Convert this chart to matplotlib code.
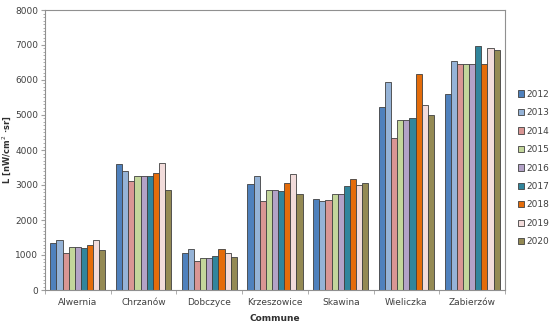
import matplotlib
matplotlib.use("Agg")
import matplotlib.pyplot as plt
import numpy as np
from matplotlib.ticker import MultipleLocator, FixedLocator

communes = ["Alwernia", "Chrzanów", "Dobczyce", "Krzeszowice", "Skawina", "Wieliczka", "Zabierzów"]
years = ["2012", "2013", "2014", "2015", "2016", "2017", "2018", "2019", "2020"]

v2012 = [1350, 3590, 1055, 3020, 2600, 5240, 5590]
v2013 = [1430, 3395, 1170, 3260, 2540, 5940, 6555]
v2014 = [1050, 3120, 820, 2555, 2565, 4350, 6470]
v2015 = [1220, 3250, 905, 2870, 2745, 4855, 6470]
v2016 = [1220, 3250, 905, 2870, 2745, 4855, 6470]
v2017 = [1200, 3255, 960, 2815, 2975, 4925, 6975]
v2018 = [1285, 3330, 1180, 3070, 3160, 6180, 6450]
v2019 = [1420, 3635, 1065, 3320, 3005, 5285, 6910]
v2020 = [1140, 2850, 950, 2745, 3050, 4990, 6870]
series = [v2012, v2013, v2014, v2015, v2016, v2017, v2018, v2019, v2020]

colors = ["#4F81BD", "#95B3D7", "#D99694", "#C3D69B", "#B3A2C7",
          "#31859C", "#E46C0A", "#F2DCDB", "#948A54"]

fig = plt.figure(figsize=(5.5, 3.27), dpi=100)
ax = fig.add_axes([45/550, 1-290/327, 460/550, 280/327])

n = len(series)
group_w = 0.84
bw = group_w / n
x = np.arange(len(communes))
for i, (vals, c, yr) in enumerate(zip(series, colors, years)):
    ax.bar(x - group_w/2 + bw*(i+0.5), vals, bw, color=c, edgecolor="#404040",
           linewidth=0.6, label=yr)

ax.set_xlim(-0.5, len(communes)-0.5)
ax.set_ylim(0, 8000)
ax.yaxis.set_major_locator(MultipleLocator(1000))
ax.yaxis.set_minor_locator(MultipleLocator(100))
ax.set_xticks(x)
ax.set_xticklabels(communes)
ax.xaxis.set_minor_locator(FixedLocator(np.arange(-0.5, len(communes), 1)))
ax.tick_params(axis="x", which="major", length=0, labelsize=6.5, colors="#404040", pad=6)
ax.tick_params(axis="x", which="minor", length=3, color="#a0a0a0", direction="out")
ax.tick_params(axis="y", which="major", length=3, labelsize=6.5, colors="#404040", color="#a0a0a0", pad=2)
ax.tick_params(axis="y", which="minor", length=1.5, color="#a0a0a0")
for s in ax.spines.values():
    s.set_color("#909090")
    s.set_linewidth(0.8)

ax.set_xlabel("Commune", fontsize=6.5, fontweight="bold", color="#303030", labelpad=5)
ax.set_ylabel("L [nW/cm$^2$ ·sr]", fontsize=6, fontweight="bold", color="#303030")
ax.yaxis.set_label_coords(-32/460, 0.5)

leg = fig.legend(loc="center left", bbox_to_anchor=(516/550, 1-168/327), frameon=False,
                 fontsize=6.5, handlelength=0.7, handleheight=0.7, handletextpad=0.3,
                 labelspacing=1.05, labelcolor="#404040", borderpad=0.2, borderaxespad=0)

fig.savefig("out.png", dpi=100)
